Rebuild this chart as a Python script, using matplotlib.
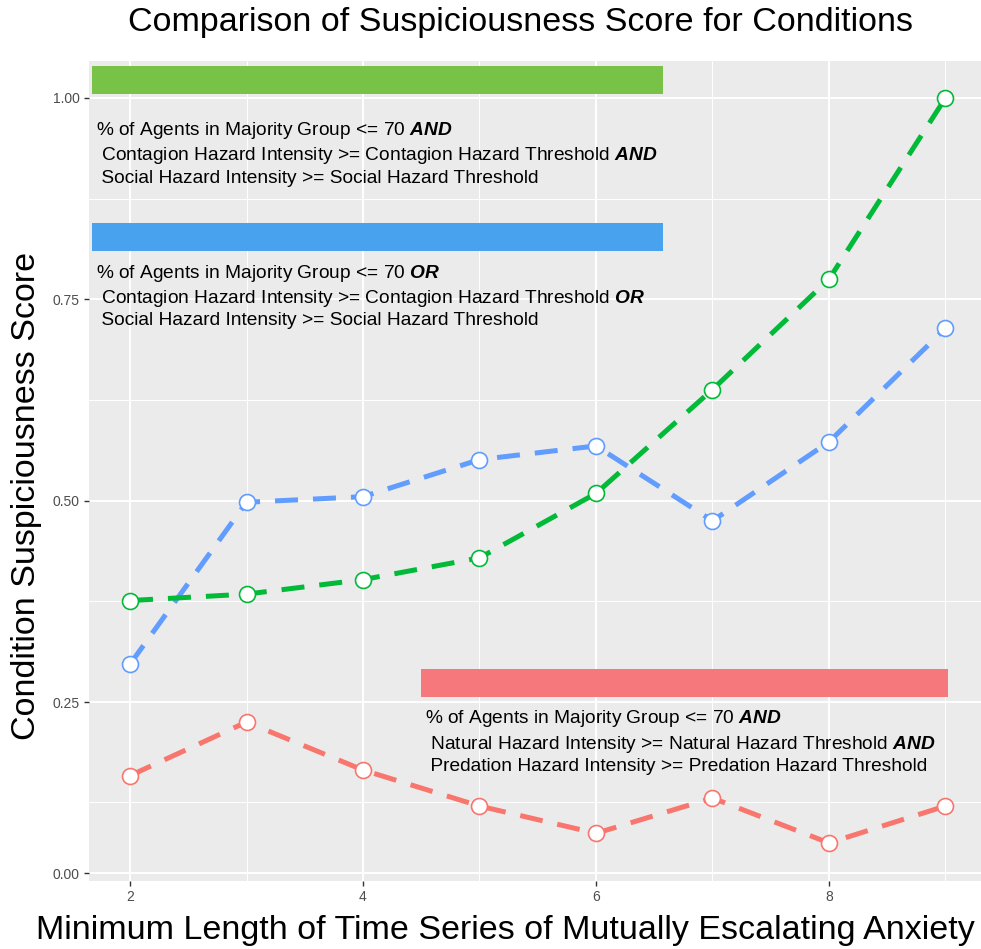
import numpy as np
import matplotlib
matplotlib.use("Agg")
import matplotlib.pyplot as plt

plt.rcParams['font.family'] = ['Liberation Sans', 'DejaVu Sans']
plt.rcParams['mathtext.fontset'] = 'custom'
plt.rcParams['mathtext.rm'] = 'Liberation Sans'
plt.rcParams['mathtext.bf'] = 'Liberation Sans:italic:bold'

# ---- data ----
x_len = [2, 3, 4, 5, 6, 7, 8, 9]
and_social = [0.376, 0.384, 0.402, 0.429, 0.509, 0.638, 0.775, 1.000]
or_social = [0.297, 0.498, 0.505, 0.551, 0.568, 0.475, 0.573, 0.714]
and_natural = [0.158, 0.225, 0.165, 0.118, 0.070, 0.130, 0.053, 0.118]

y_ticks = [0.0, 0.25, 0.5, 0.75, 1.0]
y_tick_labels = ["0.00", "0.25", "0.50", "0.75", "1.00"]
x_ticks = [2, 4, 6, 8]

title = "Comparison of Suspiciousness Score for Conditions"
xlabel = "Minimum Length of Time Series of Mutually Escalating Anxiety"
ylabel = "Condition Suspiciousness Score"

green_text = ["% of Agents in Majority Group <= 70 $\\mathbf{AND}$",
              " Contagion Hazard Intensity >= Contagion Hazard Threshold $\\mathbf{AND}$",
              " Social Hazard Intensity >= Social Hazard Threshold"]
blue_text = ["% of Agents in Majority Group <= 70 $\\mathbf{OR}$",
             " Contagion Hazard Intensity >= Contagion Hazard Threshold $\\mathbf{OR}$",
             " Social Hazard Intensity >= Social Hazard Threshold"]
red_text = ["% of Agents in Majority Group <= 70 $\\mathbf{AND}$",
            " Natural Hazard Intensity >= Natural Hazard Threshold $\\mathbf{AND}$",
            " Predation Hazard Intensity >= Predation Hazard Threshold"]

# ---- styling ----
col_green = "#00BA38"
col_blue = "#619CFF"
col_red = "#F8766D"
rect_green = "#78C347"
rect_blue = "#48A2EE"
rect_red = "#F7787C"
panel_bg = "#EBEBEB"

# reference axis is unevenly spaced: knots (value -> relative position)
_kv = np.array([-1.0, 0.0, 0.125, 0.25, 1.0, 2.0])
_kp = np.array([-568.0, 0.0, 71.0, 171.0, 775.0, 1579.0])

def fwd(v):
    return np.interp(v, _kv, _kp)

def inv(p):
    return np.interp(p, _kp, _kv)

fig = plt.figure(figsize=(9.81, 9.49), dpi=100)
ax = fig.add_axes([89/981, 1-881/949, 1-89/981, (881-61)/949])
ax.set_yscale('function', functions=(fwd, inv))
ax.set_facecolor(panel_bg)
ax.set_xlim(1.648, 9.305)
ax.set_ylim(-0.014, 1.046)

ax.set_yticks(y_ticks)
ax.set_yticklabels(y_tick_labels)
ax.set_yticks([0.125, 0.375, 0.625, 0.875], minor=True)
ax.set_xticks(x_ticks)
ax.set_xticklabels([str(v) for v in x_ticks])
ax.set_xticks([3, 5, 7, 9], minor=True)
ax.grid(True, which='major', color='white', lw=1.4)
ax.grid(True, which='minor', color='white', lw=0.7)
ax.set_axisbelow(True)
for s in ax.spines.values():
    s.set_visible(False)
ax.tick_params(which='major', length=3.5, width=1.0, color='#333333',
               labelcolor='#4D4D4D', labelsize=10, pad=3)
ax.tick_params(which='minor', length=0)

# annotation rectangles
ax.fill_between([1.675, 6.575], 1.0055, 1.0398, color=rect_green, lw=0, zorder=1)
ax.fill_between([1.675, 6.575], 0.810, 0.8445, color=rect_blue, lw=0, zorder=1)
ax.fill_between([4.498, 9.021], 0.256, 0.291, color=rect_red, lw=0, zorder=1)

fs_ann = 13.8
for yy, t in zip([0.960, 0.929, 0.900], green_text):
    ax.text(1.71, yy, t, fontsize=fs_ann, va='center', ha='left', color='black', zorder=2)
for yy, t in zip([0.782, 0.751, 0.724], blue_text):
    ax.text(1.71, yy, t, fontsize=fs_ann, va='center', ha='left', color='black', zorder=2)
for yy, t in zip([0.229, 0.1975, 0.169], red_text):
    ax.text(4.535, yy, t, fontsize=fs_ann, va='center', ha='left', color='black', zorder=2)

for ys, c in [(and_natural, col_red), (or_social, col_blue), (and_social, col_green)]:
    ln, = ax.plot(x_len, ys, color=c, lw=3.6, zorder=3)
    ln.set_dashes((4.6, 3.0))
    ax.plot(x_len, ys, ls='none', marker='o', ms=11.5, mfc='white', mec=c, mew=1.2, zorder=4)

fig.text(0.531, 1-23/949, title, fontsize=24.5, ha='center', va='center')
fig.text(0.515, 1-930/949, xlabel, fontsize=24.5, ha='center', va='center')
fig.text(27/981, 1-496/949, ylabel, fontsize=24.5, ha='center', va='center', rotation=90)

fig.savefig("out.png", dpi=100)
